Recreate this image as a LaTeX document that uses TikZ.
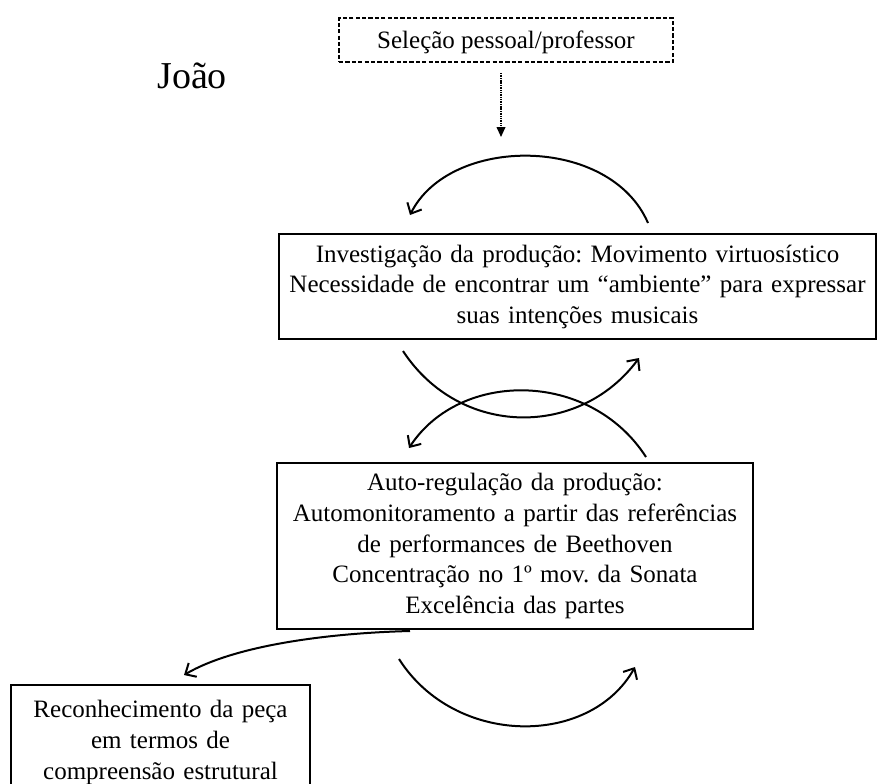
\documentclass[tikz,border=0pt]{standalone}
\usepackage{fontspec}
\setmainfont{Liberation Serif}
\usetikzlibrary{arrows.meta}
\begin{document}
\frenchspacing
\begin{tikzpicture}[x=0.75pt,y=-0.75pt,
  txt/.style={font=\fontsize{18.75}{22.9}\selectfont, align=center},
  plainbox/.style={draw, line width=0.8pt, txt, inner sep=0pt},
  dashbox/.style={draw, line width=1.2pt, dash pattern=on 3.2pt off 1.6pt, txt, inner sep=0pt},
  cyc/.style={line width=1.5pt, -{Straight Barb[length=6.5pt,width=12pt,line width=1.5pt]}},
  dotarrow/.style={line width=1.3pt, dash pattern=on 0.8pt off 0.5pt, -{Triangle[length=7.5pt,width=6.5pt]}},
]
\clip (0,0) rectangle (877,783);
\fill[white] (0,0) rectangle (877,783);

% nodes
\node[dashbox, minimum width=250.5pt, minimum height=33pt, text depth=1pt] (sel) at (506,40) {Seleção pessoal/professor};
\node[anchor=base west, font=\fontsize{28.5}{34}\selectfont, inner sep=0pt] (joao) at (157,88) {João};
\node[plainbox, minimum width=447.75pt, minimum height=78.75pt, text width=440pt] (inv) at (577.5,286.5)
  {Investigação da produção: Movimento virtuosístico\\Necessidade de encontrar um “ambiente” para expressar\\suas intenções musicais};
\node[plainbox, minimum width=357pt, minimum height=124.5pt, text width=350pt] (auto) at (515,546)
  {Auto-regulação da produção:\\Automonitoramento a partir das referências\\de performances de Beethoven\\Concentração no 1º mov. da Sonata\\Excelência das partes};
\node[plainbox, minimum width=224.25pt, minimum height=86.25pt, text width=218pt] (rec) at (160.5,742.5)
  {Reconhecimento da peça\\em termos de\\compreensão estrutural};

% dotted arrow from selection
\coordinate (dtip) at (501,137);
\draw[dotarrow] (sel.south -| dtip) ++(0,10) -- (dtip);

% top cycle arc
\coordinate (t0) at (648,223);
\coordinate (t1) at (410,215);
\draw[cyc] (t0) .. controls (610,135) and (450,135) .. (t1);

% crossing arcs between the two boxes
\coordinate (a0) at (403,351);
\coordinate (a1) at (639,358);
\draw[cyc] (a0) .. controls (460,438) and (580,438) .. (a1);
\coordinate (b0) at (646,457);
\coordinate (b1) at (409,448);
\draw[cyc] (b0) .. controls (590,370) and (460,370) .. (b1);

% left arc to recognition box
\coordinate (l0) at (410,631);
\coordinate (l1) at (184,675);
\draw[cyc] (l0) .. controls (330,633) and (235,645) .. (l1);

% bottom arc
\coordinate (c0) at (399,659);
\coordinate (c1) at (635,667);
\draw[cyc] (c0) .. controls (455,747) and (590,747) .. (c1);
\end{tikzpicture}
\end{document}
